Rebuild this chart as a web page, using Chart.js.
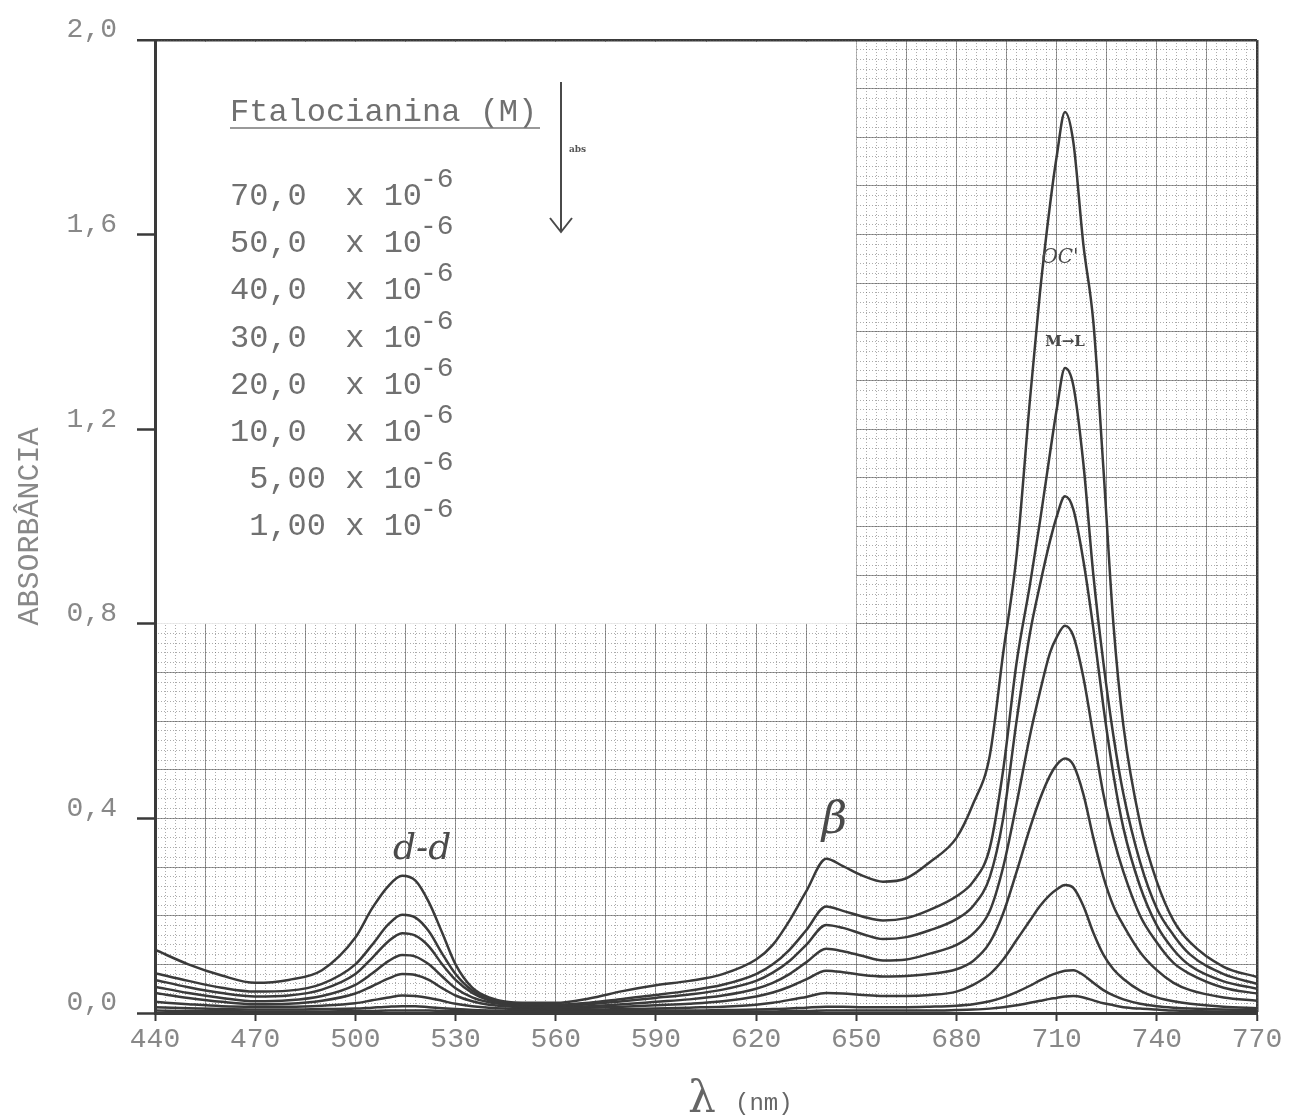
<!DOCTYPE html>
<html>
<head>
<meta charset="utf-8">
<script src="https://cdn.jsdelivr.net/npm/chart.js@4.4.0/dist/chart.umd.min.js"></script>
<style>
  body { margin: 0; background: #fff; }
  canvas { display: block; }
</style>
</head>
<body>
<canvas id="spectra" width="1289" height="1120"></canvas>
<script>
// wavelength (nm) shared by every curve
const wavelength = [
  440, 450, 460, 470, 480, 490, 500,
  505, 510, 514, 518, 522, 526, 530,
  535, 540, 550, 560, 570, 580, 590,
  600, 610, 620, 625, 630, 635, 641,
  646, 652, 658, 665, 672, 680, 685,
  690, 694, 698, 702, 705, 708, 710,
  712.5, 715, 718, 721, 724, 727, 730,
  735, 740, 745, 750, 760, 770
];

// absorbance, one array per concentration (x 10^-6 M)
const abs70 = [
  0.130, 0.100, 0.077, 0.062, 0.068, 0.088, 0.155,
  0.215, 0.262, 0.282, 0.272, 0.228, 0.165, 0.100,
  0.052, 0.032, 0.021, 0.021, 0.030, 0.045, 0.057,
  0.066, 0.080, 0.110, 0.140, 0.190, 0.250, 0.317,
  0.302, 0.282, 0.270, 0.277, 0.310, 0.360, 0.430,
  0.530, 0.740, 0.940, 1.260, 1.480, 1.660, 1.760,
  1.852, 1.790, 1.580, 1.420, 1.120, 0.800, 0.590,
  0.390, 0.270, 0.190, 0.145, 0.095, 0.074
];
const abs50 = [
  0.082, 0.066, 0.052, 0.044, 0.046, 0.060, 0.100,
  0.140, 0.183, 0.202, 0.196, 0.168, 0.122, 0.080,
  0.046, 0.029, 0.019, 0.017, 0.021, 0.029, 0.037,
  0.046, 0.058, 0.080, 0.100, 0.130, 0.170, 0.219,
  0.210, 0.198, 0.190, 0.195, 0.212, 0.240, 0.270,
  0.340, 0.500, 0.720, 0.880, 1.010, 1.150, 1.240,
  1.326, 1.290, 1.130, 0.900, 0.720, 0.570, 0.450,
  0.310, 0.215, 0.160, 0.120, 0.080, 0.060
];
const abs40 = [
  0.068, 0.053, 0.041, 0.034, 0.036, 0.048, 0.080,
  0.113, 0.148, 0.164, 0.159, 0.137, 0.100, 0.068,
  0.041, 0.026, 0.017, 0.015, 0.018, 0.024, 0.031,
  0.038, 0.048, 0.066, 0.083, 0.107, 0.140, 0.181,
  0.175, 0.162, 0.152, 0.156, 0.170, 0.193, 0.220,
  0.280, 0.400, 0.600, 0.780, 0.880, 0.970, 1.020,
  1.062, 1.035, 0.930, 0.790, 0.630, 0.490, 0.380,
  0.260, 0.180, 0.130, 0.097, 0.065, 0.050
];
const abs30 = [
  0.054, 0.041, 0.031, 0.024, 0.026, 0.035, 0.058,
  0.081, 0.107, 0.119, 0.116, 0.100, 0.075, 0.051,
  0.032, 0.022, 0.014, 0.012, 0.014, 0.018, 0.023,
  0.028, 0.036, 0.050, 0.062, 0.080, 0.104, 0.132,
  0.127, 0.117, 0.108, 0.110, 0.122, 0.140, 0.163,
  0.210, 0.300, 0.430, 0.570, 0.660, 0.740, 0.772,
  0.796, 0.775, 0.690, 0.570, 0.450, 0.360, 0.290,
  0.200, 0.145, 0.103, 0.080, 0.052, 0.040
];
const abs20 = [
  0.041, 0.031, 0.023, 0.018, 0.019, 0.025, 0.040,
  0.055, 0.071, 0.080, 0.078, 0.068, 0.051, 0.036,
  0.024, 0.017, 0.012, 0.010, 0.011, 0.013, 0.016,
  0.019, 0.024, 0.034, 0.042, 0.054, 0.069, 0.087,
  0.084, 0.078, 0.075, 0.076, 0.080, 0.090, 0.107,
  0.145, 0.205, 0.290, 0.380, 0.440, 0.488, 0.510,
  0.523, 0.510, 0.450, 0.360, 0.280, 0.220, 0.180,
  0.125, 0.088, 0.062, 0.047, 0.032, 0.025
];
const abs10 = [
  0.023, 0.018, 0.014, 0.013, 0.013, 0.015, 0.020,
  0.026, 0.032, 0.036, 0.035, 0.031, 0.025, 0.019,
  0.014, 0.011, 0.008, 0.007, 0.007, 0.008, 0.009,
  0.011, 0.013, 0.017, 0.021, 0.027, 0.033, 0.041,
  0.040, 0.037, 0.035, 0.035, 0.037, 0.044, 0.058,
  0.080, 0.110, 0.150, 0.190, 0.220, 0.243, 0.254,
  0.263, 0.257, 0.220, 0.165, 0.120, 0.090, 0.070,
  0.046, 0.032, 0.024, 0.019, 0.013, 0.010
];
const abs5 = [
  0.012, 0.010, 0.008, 0.007, 0.007, 0.008, 0.009,
  0.011, 0.013, 0.014, 0.014, 0.012, 0.010, 0.008,
  0.006, 0.005, 0.004, 0.004, 0.004, 0.004, 0.005,
  0.005, 0.006, 0.007, 0.008, 0.009, 0.011, 0.013,
  0.013, 0.012, 0.012, 0.012, 0.013, 0.015, 0.018,
  0.024, 0.032, 0.043, 0.056, 0.067, 0.077, 0.082,
  0.087, 0.088, 0.078, 0.062, 0.047, 0.036, 0.028,
  0.019, 0.014, 0.011, 0.009, 0.007, 0.006
];
const abs1 = [
  0.005, 0.004, 0.004, 0.003, 0.003, 0.003, 0.004,
  0.004, 0.005, 0.005, 0.005, 0.005, 0.004, 0.004,
  0.003, 0.003, 0.002, 0.002, 0.002, 0.002, 0.002,
  0.002, 0.003, 0.003, 0.003, 0.004, 0.004, 0.005,
  0.005, 0.005, 0.005, 0.005, 0.005, 0.006, 0.007,
  0.009, 0.012, 0.016, 0.021, 0.025, 0.029, 0.031,
  0.034, 0.035, 0.032, 0.026, 0.020, 0.016, 0.012,
  0.009, 0.007, 0.005, 0.004, 0.003, 0.003
];

const seriesList = [abs70, abs50, abs40, abs30, abs20, abs10, abs5, abs1];
const concentrationLabels = [
  '70,0  x 10', '50,0  x 10', '40,0  x 10', '30,0  x 10',
  '20,0  x 10', '10,0  x 10', ' 5,00 x 10', ' 1,00 x 10'
];
const legendTitle = 'Ftalocianina (M)';

// axis tick labels
const xLabelValues = [440, 470, 500, 530, 560, 590, 620, 650, 680, 710, 740, 770];
const yLabelValues = [0, 0.4, 0.8, 1.2, 1.6, 2.0];

const typeFont = '"Liberation Mono", "DejaVu Sans Mono", monospace';
const handFont = '"DejaVu Serif", "Liberation Serif", serif';
const ink = '#3a3a3a';

function evenTicks(from, to, count) {
  const out = [];
  for (let k = 0; k <= count; k++) out.push({ value: from + (to - from) * k / count });
  return out;
}
const near = (list, v) => list.some((t) => Math.abs(t - v) < 1e-6);

// blank corner of the graph paper (where the typed legend sits)
const blankUntilNm = 650;
const blankAboveAbs = 0.8;

const paperPlugin = {
  id: 'paper',
  beforeDatasetsDraw(chart) {
    const { ctx, scales: { x, y } } = chart;
    const left = x.getPixelForValue(440) + 2;
    const right = x.getPixelForValue(blankUntilNm);
    const top = y.getPixelForValue(2) + 2;
    const bottom = y.getPixelForValue(blankAboveAbs);
    ctx.save();
    ctx.fillStyle = '#ffffff';
    ctx.fillRect(left, top, right - left, bottom - top);

    // typed legend
    const lx = left + 73;
    ctx.fillStyle = '#707070';
    ctx.font = '32px ' + typeFont;
    ctx.textBaseline = 'alphabetic';
    ctx.fillText(legendTitle, lx, top + 79);
    ctx.strokeStyle = '#777';
    ctx.lineWidth = 1.5;
    ctx.beginPath();
    ctx.moveTo(lx, top + 86);
    ctx.lineTo(lx + 310, top + 86);
    ctx.stroke();
    concentrationLabels.forEach((label, i) => {
      const by = top + 163 + i * 47.2;
      ctx.font = '32px ' + typeFont;
      ctx.fillText(label, lx, by);
      ctx.font = '28px ' + typeFont;
      ctx.fillText('-6', lx + 10 * 19.2 - 2, by - 18);
    });

    // arrow next to the legend
    const ax = left + 404;
    ctx.strokeStyle = '#4a4a4a';
    ctx.lineWidth = 2;
    ctx.beginPath();
    ctx.moveTo(ax, top + 40);
    ctx.lineTo(ax, top + 190);
    ctx.moveTo(ax - 11, top + 176);
    ctx.lineTo(ax, top + 190);
    ctx.lineTo(ax + 11, top + 176);
    ctx.stroke();
    ctx.fillStyle = '#555';
    ctx.font = 'bold 9px ' + handFont;
    ctx.fillText('abs', ax + 8, top + 110);
    ctx.restore();
  },
  afterDraw(chart) {
    const { ctx, scales: { x, y } } = chart;
    ctx.save();
    // x axis title
    ctx.fillStyle = '#666';
    ctx.font = '44px ' + handFont;
    ctx.textBaseline = 'alphabetic';
    ctx.fillText('λ', 688, 1112);
    ctx.font = '24px ' + typeFont;
    ctx.fillText('(nm)', 735, 1110);

    // handwritten notes
    ctx.fillStyle = '#4a4a4a';
    ctx.textAlign = 'center';
    ctx.textBaseline = 'middle';
    ctx.font = 'italic 36px ' + handFont;
    ctx.fillText('d-d', x.getPixelForValue(520), y.getPixelForValue(0.335));
    ctx.font = 'italic 44px ' + handFont;
    ctx.fillText('β', x.getPixelForValue(643.5), y.getPixelForValue(0.393));
    ctx.font = 'italic 20px ' + handFont;
    ctx.fillText("OC'", x.getPixelForValue(711), y.getPixelForValue(1.553));
    ctx.font = 'bold 15px ' + handFont;
    ctx.fillText('M→L', x.getPixelForValue(712.5), y.getPixelForValue(1.38));
    ctx.restore();
  }
};

const datasets = seriesList.map((values, i) => ({
  label: concentrationLabels[i] + '⁻⁶',
  data: wavelength.map((w, j) => ({ x: w, y: values[j] })),
  borderColor: ink,
  borderWidth: 2.5,
  pointRadius: 0,
  fill: false,
  cubicInterpolationMode: 'monotone',
  xAxisID: 'x',
  yAxisID: 'y'
}));

new Chart(document.getElementById('spectra').getContext('2d'), {
  type: 'line',
  data: { datasets },
  plugins: [paperPlugin],
  options: {
    responsive: false,
    animation: false,
    devicePixelRatio: 1,
    layout: { padding: { top: 40, right: 32, left: 0, bottom: 0 } },
    plugins: { legend: { display: false }, tooltip: { enabled: false } },
    scales: {
      x: {
        type: 'linear',
        position: 'bottom',
        min: 440,
        max: 770,
        afterBuildTicks: (s) => { s.ticks = evenTicks(440, 770, 22); },
        afterFit: (s) => { s.height = 107; },
        ticks: {
          autoSkip: false,
          maxRotation: 0,
          padding: 2,
          color: '#888',
          font: { family: typeFont, size: 28 },
          callback: (v) => (near(xLabelValues, v) ? String(Math.round(v)) : '')
        },
        grid: {
          color: (c) => (c.tick && c.tick.value >= 769.9 ? ink : 'rgba(85,85,85,0.6)'),
          lineWidth: (c) => (c.tick && c.tick.value >= 769.9 ? 2.5 : 1),
          tickLength: 8,
          tickWidth: 2,
          tickColor: (c) => (c.tick && near(xLabelValues, c.tick.value) ? ink : 'rgba(0,0,0,0)')
        },
        border: { display: true, color: ink, width: 3 },
        title: { display: false }
      },
      xMinor: {
        type: 'linear',
        position: 'top',
        min: 440,
        max: 770,
        afterBuildTicks: (s) => { s.ticks = evenTicks(440, 770, 110); },
        afterFit: (s) => { s.height = 0; },
        ticks: { display: false },
        grid: { color: 'rgba(90,90,90,0.5)', lineWidth: 1, drawTicks: false },
        border: { display: false, dash: [1, 2] }
      },
      y: {
        type: 'linear',
        position: 'left',
        min: 0,
        max: 2,
        afterBuildTicks: (s) => { s.ticks = evenTicks(0, 2, 20); },
        afterFit: (s) => { s.width = 155; },
        ticks: {
          autoSkip: false,
          padding: 20,
          labelOffset: -10,
          color: '#888',
          font: { family: typeFont, size: 28 },
          callback: (v) => (near(yLabelValues, v) ? v.toFixed(1).replace('.', ',') : '')
        },
        grid: {
          color: (c) => (c.tick && (c.tick.value > 1.999 || c.tick.value < 0.001) ? ink : 'rgba(85,85,85,0.6)'),
          lineWidth: (c) => (c.tick && c.tick.value > 1.999 ? 2.5 : 1),
          tickLength: 18,
          tickWidth: 2.5,
          tickColor: (c) => (c.tick && near(yLabelValues, c.tick.value) ? ink : 'rgba(0,0,0,0)')
        },
        border: { display: true, color: ink, width: 3 },
        title: {
          display: true,
          text: 'ABSORBÂNCIA',
          color: '#888',
          font: { family: typeFont, size: 30 },
          padding: { top: 12, bottom: 0 }
        }
      },
      yMinor: {
        type: 'linear',
        position: 'right',
        min: 0,
        max: 2,
        afterBuildTicks: (s) => { s.ticks = evenTicks(0, 2, 100); },
        afterFit: (s) => { s.width = 0; },
        ticks: { display: false },
        grid: { color: 'rgba(90,90,90,0.5)', lineWidth: 1, drawTicks: false },
        border: { display: false, dash: [1, 2] }
      }
    }
  }
});
</script>
</body>
</html>
